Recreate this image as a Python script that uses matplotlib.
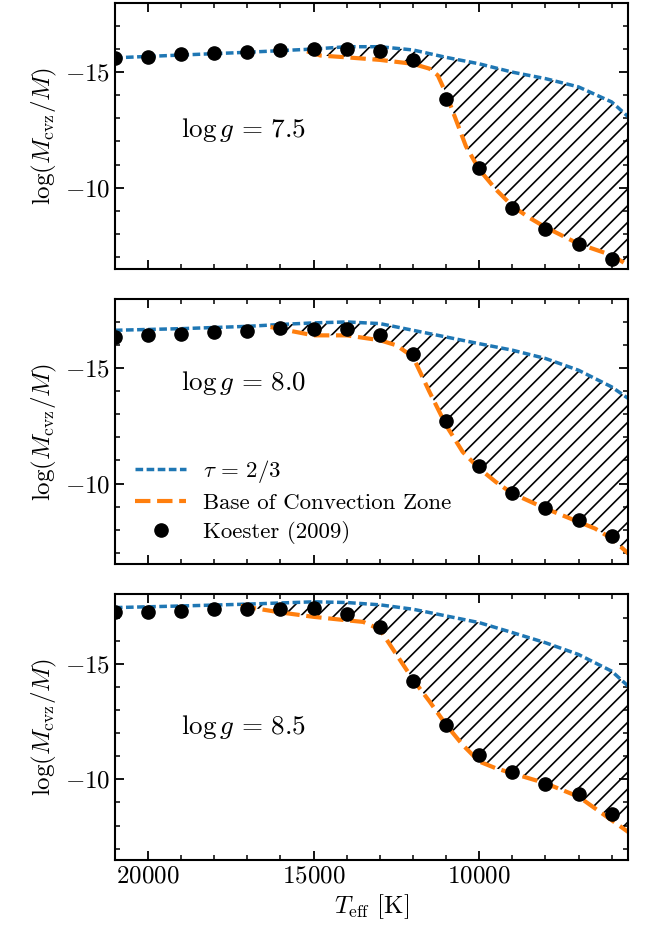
import numpy as np
import matplotlib
matplotlib.use("Agg")
import matplotlib.pyplot as plt

plt.rcParams.update({
    "font.family": "serif",
    "font.serif": ["cmr10"],
    "mathtext.fontset": "cm",
    "axes.formatter.use_mathtext": True,
    "axes.unicode_minus": True,
    "font.size": 18,
    "axes.linewidth": 1.5,
    "hatch.linewidth": 1.2,
    "xtick.direction": "in",
    "ytick.direction": "in",
    "xtick.top": True,
    "ytick.right": True,
    "xtick.minor.visible": True,
    "ytick.minor.visible": True,
    "xtick.major.size": 6.5,
    "ytick.major.size": 6.5,
    "xtick.minor.size": 3.5,
    "ytick.minor.size": 3.5,
    "xtick.major.width": 1.3,
    "ytick.major.width": 1.3,
    "xtick.minor.width": 1.1,
    "ytick.minor.width": 1.1,
})

# Koester (2009) points
T_koester = [21000, 20000, 19000, 18000, 17000, 16000, 15000, 14000,
             13000, 12000, 11000, 10000, 9000, 8000, 7000, 6000]
koester_75 = [-15.62, -15.64, -15.79, -15.83, -15.89, -15.96, -16.00, -15.99,
              -15.93, -15.53, -13.83, -10.87, -9.11, -8.21, -7.57, -6.93]
koester_80 = [-16.34, -16.41, -16.49, -16.56, -16.59, -16.75, -16.70, -16.70,
              -16.41, -15.62, -12.69, -10.75, -9.61, -8.94, -8.44, -7.72]
koester_85 = [-17.22, -17.22, -17.29, -17.36, -17.39, -17.39, -17.43, -17.17,
              -16.59, -14.27, -12.33, -11.06, -10.33, -9.80, -9.36, -8.48]

# tau = 2/3 curves
T_tau = [21000, 19000, 17000, 16000, 15000, 14000, 13000, 12000, 11000,
         10000, 9000, 8000, 7000, 6000, 5500]
tau_75 = [-15.62, -15.74, -15.86, -15.93, -16.00, -16.10, -16.10, -15.96,
          -15.64, -15.36, -15.00, -14.72, -14.36, -13.71, -13.07]
tau_80 = [-16.63, -16.70, -16.80, -16.88, -16.95, -16.99, -16.92, -16.63,
          -16.34, -16.05, -15.77, -15.41, -14.90, -14.18, -13.68]
tau_85 = [-17.43, -17.50, -17.58, -17.63, -17.68, -17.65, -17.55, -17.36,
          -17.07, -16.78, -16.35, -15.91, -15.40, -14.68, -14.03]

# base of convection zone curves
T_cz_75 = [15200, 14800, 14000, 13000, 12000, 11500, 11250, 11000, 10700,
           10400, 10000, 9500, 9000, 8500, 8000, 7000, 6000, 5500]
cz_75 = [-15.90, -15.72, -15.64, -15.53, -15.36, -15.15, -14.86, -14.07,
         -12.93, -11.79, -10.79, -9.93, -9.21, -8.71, -8.29, -7.57, -7.08, -6.64]
T_cz_80 = [16300, 15000, 14000, 13000, 12500, 12000, 11500, 11000, 10500,
           10000, 9500, 9000, 8000, 7000, 6500, 6000, 5500]
cz_80 = [-16.77, -16.41, -16.41, -16.20, -15.98, -15.48, -13.96, -12.52,
         -11.37, -10.65, -10.07, -9.57, -8.92, -8.34, -8.05, -7.62, -6.97]
T_cz_85 = [17200, 16000, 15000, 14000, 13500, 13000, 12500, 12000, 11500,
           11000, 10500, 10000, 9500, 9000, 8000, 7000, 6500, 6000, 5500]
cz_85 = [-17.50, -17.22, -17.03, -16.88, -16.81, -16.49, -15.40, -14.32,
         -13.37, -12.36, -11.49, -10.77, -10.48, -10.26, -9.83, -9.25, -8.74,
         -8.23, -7.72]

logg_labels = [r"$\log g\,=\,7.5$", r"$\log g\,=\,8.0$", r"$\log g\,=\,8.5$"]
label_y = [-12.5, -14.35, -12.25]

panels = [
    (koester_75, tau_75, T_cz_75, cz_75),
    (koester_80, tau_80, T_cz_80, cz_80),
    (koester_85, tau_85, T_cz_85, cz_85),
]

fig, axes = plt.subplots(3, 1, figsize=(6.49, 9.35), dpi=100, sharex=True)
fig.subplots_adjust(left=0.177, right=0.968, top=0.997, bottom=0.080, hspace=0.113)

for i, ax in enumerate(axes):
    kz, tau, T_cz, cz = panels[i]
    # hatched region between tau=2/3 and convection zone base
    tau_on_cz = np.interp(T_cz[::-1], T_tau[::-1], tau[::-1])[::-1]
    ax.fill_between(T_cz, tau_on_cz, cz, facecolor="none", edgecolor="k",
                    hatch="//", linewidth=0, zorder=1)
    ax.plot(T_tau, tau, color="#1f77b4", lw=2.5, ls=(0, (2.2, 1.0)),
            label=r"$\tau\,=\,2/3$", zorder=2)
    ax.plot(T_cz, cz, color="#ff7f0e", lw=3, ls="--",
            label="Base of Convection Zone", zorder=2)
    ax.plot(T_koester, kz, "o", color="k", ms=9.5, label="Koester (2009)", zorder=3)
    ax.text(19000, label_y[i], logg_labels[i], ha="left", va="center", fontsize=19.5)

    ax.set_xlim(21000, 5500)
    ax.set_ylim(-6.5, -18)
    ax.set_yticks([-15, -10])
    ax.yaxis.set_minor_locator(matplotlib.ticker.MultipleLocator(1))
    ax.xaxis.set_minor_locator(matplotlib.ticker.MultipleLocator(1000))
    ax.set_xticks([20000, 15000, 10000])
    ax.set_ylabel(r"$\log(M_{\rm cvz}/M)$")

axes[1].legend(loc="lower left", frameon=False, fontsize=16.5, handlelength=2.2,
               borderaxespad=0.5, labelspacing=0.35, handletextpad=0.75)
axes[2].set_xlabel(r"$T_{\rm eff}$ [K]")

fig.savefig("out.png", dpi=100)
